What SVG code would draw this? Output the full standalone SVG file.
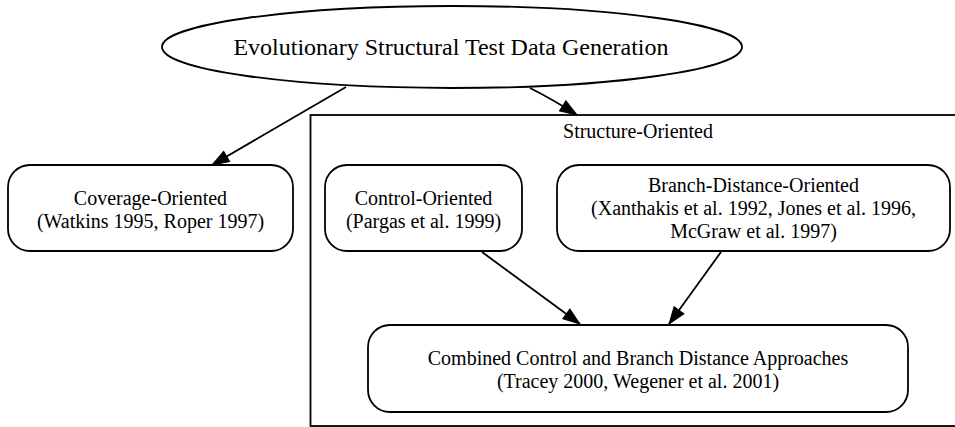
<svg xmlns="http://www.w3.org/2000/svg" width="955" height="427" viewBox="0 0 955 427">
<style>
.n{fill:#fff;stroke:#000;stroke-width:1.8}
.t{font-family:"Liberation Serif","Times New Roman",serif;font-size:20px;fill:#000;text-anchor:middle}
.big{font-size:24px}
.e{fill:none;stroke:#000;stroke-width:1.8}
</style>
<defs>
<marker id="ah" markerUnits="userSpaceOnUse" markerWidth="20" markerHeight="14" refX="18" refY="7" orient="auto">
<path d="M1,1 L18,7 L1,13 Z" fill="#000" stroke="#000" stroke-width="1"/>
</marker>
</defs>
<rect width="955" height="427" fill="#fff"/>
<g id="cluster_structure">
<rect x="310.5" y="115" width="660" height="311" fill="none" stroke="#000" stroke-width="1.8"/>
<text class="t" x="638" y="138">Structure-Oriented</text>
</g>
<g id="root">
<ellipse class="n" cx="452" cy="47" rx="290" ry="41"/>
<text class="t big" x="451" y="55">Evolutionary Structural Test Data Generation</text>
</g>
<g id="coverage">
<rect class="n" x="8" y="165" width="285" height="86" rx="22" ry="22"/>
<text class="t" x="150.5" y="205">Coverage-Oriented</text>
<text class="t" x="150.5" y="228">(Watkins 1995, Roper 1997)</text>
</g>
<g id="control">
<rect class="n" x="325" y="165" width="197" height="86" rx="22" ry="22"/>
<text class="t" x="423.5" y="205">Control-Oriented</text>
<text class="t" x="423.5" y="228">(Pargas et al. 1999)</text>
</g>
<g id="branch">
<rect class="n" x="557" y="165" width="393" height="86" rx="22" ry="22"/>
<text class="t" x="753.5" y="192">Branch-Distance-Oriented</text>
<text class="t" x="753.5" y="215">(Xanthakis et al. 1992, Jones et al. 1996,</text>
<text class="t" x="753.5" y="238">McGraw et al. 1997)</text>
</g>
<g id="combined">
<rect class="n" x="368" y="325" width="540" height="87" rx="22" ry="22"/>
<text class="t" x="638" y="365">Combined Control and Branch Distance Approaches</text>
<text class="t" x="638" y="388">(Tracey 2000, Wegener et al. 2001)</text>
</g>
<g id="edges">
<path class="e" d="M346,87 L212,165" marker-end="url(#ah)"/>
<path class="e" d="M530,88 Q552,99 577,115" marker-end="url(#ah)"/>
<path class="e" d="M482,252 L580,324" marker-end="url(#ah)"/>
<path class="e" d="M721,252 L669,324" marker-end="url(#ah)"/>
</g>
</svg>
